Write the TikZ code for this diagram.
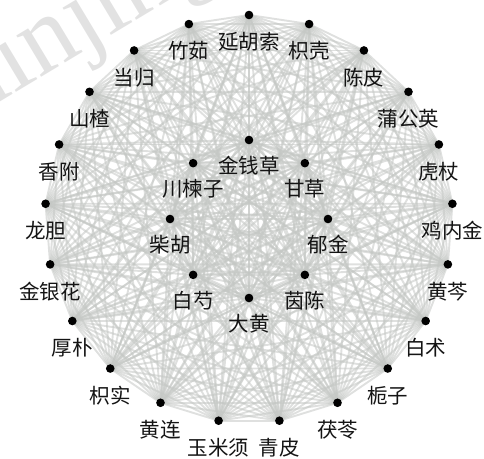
\documentclass[tikz,border=0pt]{standalone}
\usepackage{fontspec}
\newfontfamily\cjk{Noto Sans CJK SC}
\newfontfamily\wmfont{Liberation Serif}
\pgfdeclarelayer{background}
\pgfsetlayers{background,main}
\definecolor{edgegray}{RGB}{196,199,196}
\definecolor{wmgray}{RGB}{226,226,226}
\tikzset{
  dot/.style={circle, fill=black, draw=none, minimum size=8.6pt, inner sep=0pt},
  lab/.style={font=\cjk\fontsize{20.5}{22}\selectfont, text=black!92, inner sep=0pt, anchor=center},
  edge/.style={draw=edgegray, line width=1.9pt, opacity=0.55},
  wm/.style={font=\wmfont\fontsize{105}{105}\selectfont, text=wmgray, inner sep=0pt}
}
\begin{document}
\begin{tikzpicture}[x=1pt,y=1pt]
\useasboundingbox (0,0) rectangle (484,458);
\begin{scope}[shift={(249,239)}]
% outer ring
\foreach \k/\t in {1/延胡索,2/竹茹,3/当归,4/山楂,5/香附,6/龙胆,7/金银花,8/厚朴,9/枳实,10/黄连,11/玉米须,12/青皮,13/茯苓,14/栀子,15/白术,16/黄芩,17/鸡内金,18/虎杖,19/蒲公英,20/陈皮,21/枳壳}{
  \pgfmathsetmacro{\a}{90+(\k-1)*360/21}
  \node[dot] (n\k) at (\a:204) {};
  \node[lab] (t\k) at ([yshift=-27pt]n\k.center) {\t};
}
% inner ring
\foreach \k/\t in {22/金钱草,23/川楝子,24/柴胡,25/白芍,26/大黄,27/茵陈,28/郁金,29/甘草}{
  \pgfmathsetmacro{\a}{90+(\k-22)*45}
  \node[dot] (n\k) at (\a:79) {};
  \node[lab] (t\k) at ([yshift=-26pt]n\k.center) {\t};
}
\end{scope}
\begin{pgfonlayer}{background}
\node[wm, rotate=31, anchor=base west] (wmark) at (-56,322) {minjing};
\foreach \i in {1,...,29}{
  \foreach \j in {\i,...,29}{
    \ifnum\j>\i \draw[edge] (n\i.center) -- (n\j.center);\fi
  }
}
\end{pgfonlayer}
\end{tikzpicture}
\end{document}
